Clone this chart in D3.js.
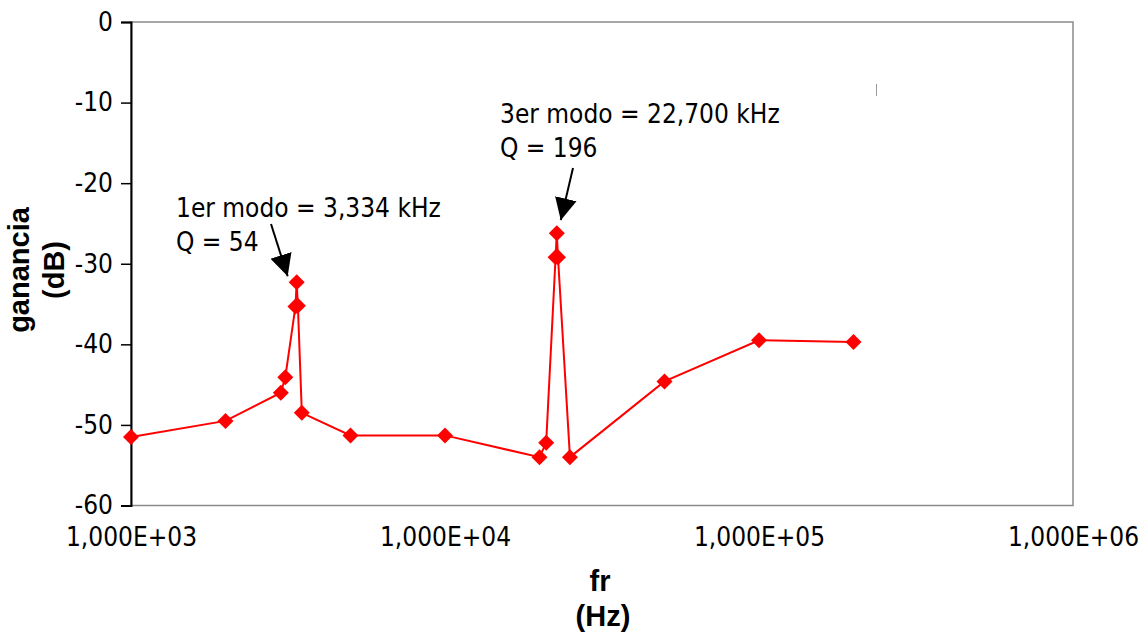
<!DOCTYPE html>
<html>
<head>
<meta charset="utf-8">
<script src="https://cdn.jsdelivr.net/npm/d3@7"></script>
<style>
  body { margin: 0; background: #fff; }
  svg { display: block; }
</style>
</head>
<body>
<script>
// Chart size
var width = 1141;
var height = 632;

// Data
var freqs = [1000, 2000, 3000, 3100, 3340, 3370, 3400, 3500, 5000, 10000,
             20000, 21000, 22500, 22700, 22900, 25000, 50000, 100000, 200000];
var gains = [-51.5, -49.5, -46.0, -44.1, -35.3, -32.3, -35.2, -48.5, -51.3, -51.3,
             -54.0, -52.2, -29.2, -26.2, -29.2, -54.0, -44.6, -39.5, -39.7];

var yTicks = [0, -10, -20, -30, -40, -50, -60];
var xTicks = [1e3, 1e4, 1e5, 1e6];
var xTickLabels = ["1,000E+03", "1,000E+04", "1,000E+05", "1,000E+06"];

var notes = [
    { lines: ["1er modo = 3,334 kHz", "Q = 54"], freq: 3370, gain: -32.3 },
    { lines: ["3er modo = 22,700 kHz", "Q = 196"], freq: 22700, gain: -26.2 }
];

var tickFont = "'DejaVu Sans Condensed', 'DejaVu Sans', sans-serif";
var titleFont = "'Liberation Sans', Arial, sans-serif";

// Plot area
var margin = { left: 131, top: 22, right: 1141 - 1073, bottom: 632 - 505.5 };

var svg = d3.select("body").append("svg")
    .attr("width", width)
    .attr("height", height);

var x = d3.scaleLog().domain([1e3, 1e6]).range([margin.left, width - margin.right]);
var y = d3.scaleLinear().domain([-60, 0]).range([height - margin.bottom, margin.top]);

// Arrow head
svg.append("defs").append("marker")
    .attr("id", "head")
    .attr("viewBox", "0 0 10 10")
    .attr("refX", 10).attr("refY", 5)
    .attr("markerUnits", "userSpaceOnUse")
    .attr("markerWidth", 22).attr("markerHeight", 24)
    .attr("orient", "auto")
  .append("path")
    .attr("d", "M0,0 L10,5 L0,10 Z")
    .attr("fill", "#000");

// Frame (grey on top, right and bottom)
svg.append("rect")
    .attr("x", x(1e3)).attr("y", y(0))
    .attr("width", x(1e6) - x(1e3))
    .attr("height", y(-60) - y(0))
    .attr("fill", "none")
    .attr("stroke", "#8a8a8a")
    .attr("stroke-width", 1.5);

// Y axis
var yAxis = svg.append("g")
    .attr("transform", "translate(" + x(1e3) + ",0)")
    .call(d3.axisLeft(y).tickValues(yTicks).tickSize(10).tickPadding(8)
        .tickFormat(function(d) { return String(d); }));
yAxis.select(".domain").attr("stroke", "#000").attr("stroke-width", 2);
yAxis.selectAll(".tick line").attr("stroke", "#000").attr("stroke-width", 1.5);
yAxis.selectAll("text")
    .attr("font-family", tickFont)
    .attr("font-size", 26)
    .attr("fill", "#000");

// X axis (labels only)
var xAxis = svg.append("g")
    .attr("transform", "translate(0," + y(-60) + ")")
    .call(d3.axisBottom(x).tickValues(xTicks).tickSize(0).tickPadding(22)
        .tickFormat(function(d, i) { return xTickLabels[i]; }));
xAxis.select(".domain").remove();
xAxis.selectAll("text")
    .attr("font-family", tickFont)
    .attr("font-size", 26)
    .attr("fill", "#000");

// Axis titles
svg.append("text")
    .attr("x", 600).attr("y", 591)
    .attr("text-anchor", "middle")
    .attr("font-family", titleFont).attr("font-weight", "bold").attr("font-size", 29)
    .text("fr");
svg.append("text")
    .attr("x", 603).attr("y", 626)
    .attr("text-anchor", "middle")
    .attr("font-family", titleFont).attr("font-weight", "bold").attr("font-size", 29)
    .text("(Hz)");

var yTitle = svg.append("text")
    .attr("transform", "translate(0,270) rotate(-90)")
    .attr("text-anchor", "middle")
    .attr("font-family", titleFont).attr("font-weight", "bold").attr("font-size", 29);
yTitle.append("tspan").attr("x", 0).attr("y", 29).text("ganancia");
yTitle.append("tspan").attr("x", 0).attr("y", 64).text("(dB)");

// Series line
var data = freqs.map(function(f, i) { return { f: f, g: gains[i] }; });

svg.append("path")
    .datum(data)
    .attr("fill", "none")
    .attr("stroke", "#ff0000")
    .attr("stroke-width", 2)
    .attr("d", d3.line().x(function(d) { return x(d.f); }).y(function(d) { return y(d.g); }));

// Diamond markers
svg.selectAll(".pt").data(data).enter().append("path")
    .attr("class", "pt")
    .attr("transform", function(d) { return "translate(" + x(d.f) + "," + y(d.g) + ")"; })
    .attr("d", "M0,-8 L8,0 L0,8 L-8,0 Z")
    .attr("fill", "#ff0000");

// Annotations: text block, then an arrow ending just off the peak marker
var noteText = [
    { x: 176, y: 217 },
    { x: 500, y: 123 }
];
var arrows = [
    { x1: 271, y1: 224, dx: -9, dy: -6 },
    { x1: 573, y1: 168, dx: 4, dy: -13 }
];
notes.forEach(function(n, i) {
    var t = svg.append("text")
        .attr("font-family", tickFont)
        .attr("font-size", 26)
        .attr("fill", "#000");
    n.lines.forEach(function(line, j) {
        t.append("tspan").attr("x", noteText[i].x).attr("y", noteText[i].y + j * 34).text(line);
    });
    svg.append("line")
        .attr("x1", arrows[i].x1).attr("y1", arrows[i].y1)
        .attr("x2", x(n.freq) + arrows[i].dx)
        .attr("y2", y(n.gain) + arrows[i].dy)
        .attr("stroke", "#000")
        .attr("stroke-width", 2)
        .attr("marker-end", "url(#head)");
});

// small stray mark in the plot area
svg.append("line")
    .attr("x1", 876.5).attr("y1", 84).attr("x2", 876.5).attr("y2", 96)
    .attr("stroke", "#999").attr("stroke-width", 1);
</script>
</body>
</html>
